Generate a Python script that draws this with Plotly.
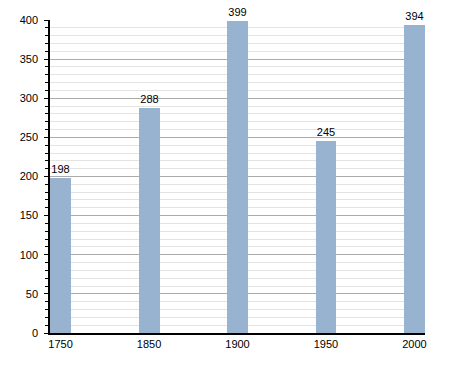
import plotly.graph_objects as go

years = ["1750", "1850", "1900", "1950", "2000"]
population = [198, 288, 399, 245, 394]

fig = go.Figure(go.Bar(
    x=years, y=population,
    text=[str(v) for v in population],
    textposition="outside",
    textfont=dict(color="black", size=11, family="Liberation Sans"),
    marker=dict(color="#98b3cf", line=dict(width=0)),
    width=0.237,
    cliponaxis=False,
))

fig.update_layout(
    width=455, height=373,
    margin=dict(l=50, r=30, t=20, b=40),
    plot_bgcolor="white", paper_bgcolor="white",
    font=dict(family="Liberation Sans", size=11, color="black"),
    showlegend=False,
    bargap=0,
)
fig.update_xaxes(
    type="category", range=[-0.119, 4.119],
    showline=True, linecolor="black", linewidth=1.5,
    showgrid=False, ticks="", tickfont=dict(size=11, color="black"),
)
fig.update_yaxes(
    range=[0, 400], dtick=50, tick0=0,
    showline=True, linecolor="black", linewidth=1.5,
    showgrid=True, gridcolor="#ababab", gridwidth=1,
    ticks="outside", ticklen=4, tickcolor="black",
    ticklabelstandoff=4,
    zeroline=False,
    tickfont=dict(size=11, color="black"),
    minor=dict(dtick=10, showgrid=True, gridcolor="#e3e3e3", gridwidth=1,
               ticks="outside", ticklen=3, tickcolor="black"),
)

fig.write_html("out.html")
